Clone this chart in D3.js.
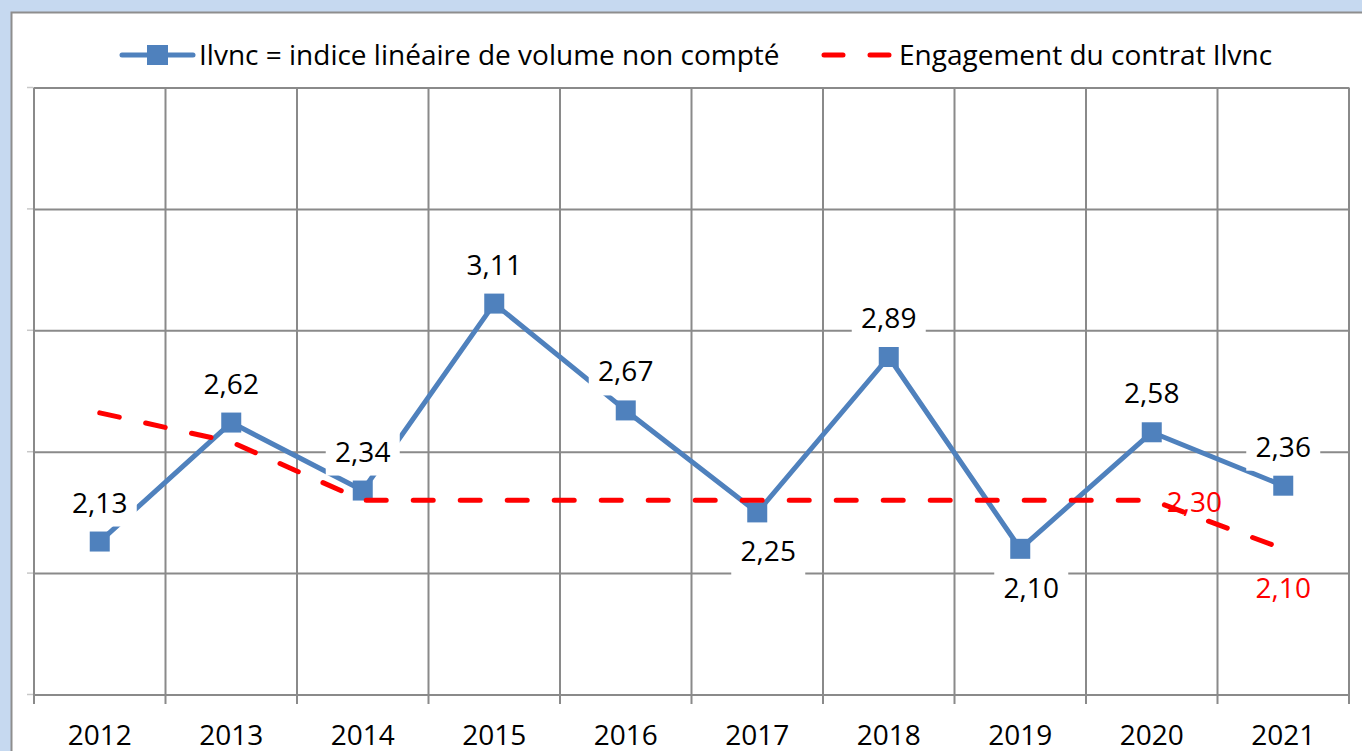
<!DOCTYPE html>
<html>
<head>
<meta charset="utf-8">
<script src="https://cdn.jsdelivr.net/npm/d3@7"></script>
<style>
  html, body { margin: 0; padding: 0; background: #c6d9f0; overflow: hidden; }
  text { font-family: "Open Sans", "Noto Sans", sans-serif; }
</style>
</head>
<body>
<div id="chart"></div>
<script>
    // data
    var years = ["2012", "2013", "2014", "2015", "2016", "2017", "2018", "2019", "2020", "2021"];
    var ilvnc = [2.13, 2.62, 2.34, 3.11, 2.67, 2.25, 2.89, 2.10, 2.58, 2.36];
    var engagement = [2.66, 2.54, 2.30, 2.30, 2.30, 2.30, 2.30, 2.30, 2.30, 2.10];
    var ilvncLabelSide = ["above", "above", "above", "above", "above", "below", "above", "below", "above", "above"];
    var engagementLabels = [null, null, null, null, null, null, null, null, "right", "below"];
    var yTicks = [1.5, 2.0, 2.5, 3.0, 3.5, 4.0];

    var legendNames = ["Ilvnc = indice linéaire de volume non compté", "Engagement du contrat Ilvnc"];

    var W = 1362, H = 751;
    var blue = "#4f81bd", red = "#ff0000", grid = "#8a8a8a";

    var svg = d3.select("#chart")
        .append("svg")
        .attr("width", W)
        .attr("height", H);

    // chart area with grey border
    svg.append("rect")
        .attr("x", 11.5)
        .attr("y", 12.5)
        .attr("width", W)
        .attr("height", H)
        .attr("fill", "#fff")
        .attr("stroke", "#8e8e8e")
        .attr("stroke-width", 2);

    var x = d3.scaleBand().domain(years).range([34, 1349]).padding(0);
    var y = d3.scaleLinear().domain([1.5, 4.0]).range([694.5, 87.5]);
    var cx = function (d) { return x(d) + x.bandwidth() / 2; };
    var fmt = function (v) { return d3.format(".2f")(v).replace(".", ","); };

    // horizontal gridlines
    var gy = svg.append("g")
        .attr("transform", "translate(34,0)")
        .call(d3.axisLeft(y).tickValues(yTicks).tickSize(-1315).tickFormat(""));
    gy.select(".domain").remove();
    gy.selectAll(".tick line").attr("stroke", grid).attr("stroke-width", 2);
    // small y ticks out to the left
    svg.append("g").selectAll("line")
        .data(yTicks)
        .join("line")
        .attr("x1", 27).attr("x2", 33)
        .attr("y1", function (d) { return y(d); })
        .attr("y2", function (d) { return y(d); })
        .attr("stroke", "#c8c8c8")
        .attr("stroke-width", 1.5);

    // vertical gridlines at category edges
    var edges = years.map(function (d) { return x(d); }).concat([x.range()[1]]);
    svg.append("g").selectAll("line")
        .data(edges)
        .join("line")
        .attr("x1", function (d) { return d; })
        .attr("x2", function (d) { return d; })
        .attr("y1", y(4.0))
        .attr("y2", 704)
        .attr("stroke", grid)
        .attr("stroke-width", 2);

    // x axis labels
    var gx = svg.append("g")
        .attr("transform", "translate(0," + y(1.5) + ")")
        .call(d3.axisBottom(x).tickSize(0).tickPadding(0));
    gx.select(".domain").attr("stroke", grid).attr("stroke-width", 2);
    gx.selectAll(".tick text")
        .attr("y", 50)
        .attr("dy", 0)
        .attr("font-size", 28)
        .attr("font-family", "'Open Sans', sans-serif")
        .attr("fill", "#000");

    // Ilvnc series
    var line = d3.line()
        .x(function (d, i) { return cx(years[i]); })
        .y(function (d) { return y(d); });

    svg.append("path")
        .datum(ilvnc)
        .attr("d", line)
        .attr("fill", "none")
        .attr("stroke", blue)
        .attr("stroke-width", 5)
        .attr("stroke-linejoin", "round");

    svg.append("g").selectAll("rect")
        .data(ilvnc)
        .join("rect")
        .attr("x", function (d, i) { return cx(years[i]) - 10; })
        .attr("y", function (d) { return y(d) - 10; })
        .attr("width", 20)
        .attr("height", 20)
        .attr("fill", blue);

    // Engagement series
    svg.append("path")
        .datum(engagement)
        .attr("d", line)
        .attr("fill", "none")
        .attr("stroke", red)
        .attr("stroke-width", 5)
        .attr("stroke-dasharray", "20,27")
        .attr("stroke-linecap", "round");

    // Ilvnc labels with white boxes
    var lab = svg.append("g").selectAll("g")
        .data(ilvnc)
        .join("g")
        .attr("transform", function (d, i) {
            var above = ilvncLabelSide[i] === "above";
            var bx = cx(years[i]) + (above ? 0 : 11);
            var by = above ? y(d) - 29 : y(d) + 49;
            return "translate(" + bx + "," + by + ")";
        });
    lab.append("rect")
        .attr("x", -37).attr("y", -32)
        .attr("width", 74).attr("height", 46)
        .attr("fill", "#fff");
    lab.append("text")
        .attr("text-anchor", "middle")
        .attr("font-size", 28)
        .attr("fill", "#000")
        .text(function (d) { return fmt(d); });

    // Engagement labels (only the last two)
    svg.append("g").selectAll("text")
        .data(engagement.map(function (d, i) { return { v: d, i: i, side: engagementLabels[i] }; })
            .filter(function (d) { return d.side; }))
        .join("text")
        .attr("x", function (d) { return d.side === "right" ? cx(years[d.i]) + 15 : cx(years[d.i]); })
        .attr("y", function (d) { return d.side === "right" ? y(d.v) + 12 : y(d.v) + 49; })
        .attr("text-anchor", function (d) { return d.side === "right" ? "start" : "middle"; })
        .attr("font-size", 28)
        .attr("fill", red)
        .text(function (d) { return fmt(d.v); });

    // legend
    var leg = svg.append("g");
    leg.append("line")
        .attr("x1", 122).attr("x2", 193).attr("y1", 55).attr("y2", 55)
        .attr("stroke", blue).attr("stroke-width", 5).attr("stroke-linecap", "round");
    leg.append("rect")
        .attr("x", 147).attr("y", 45).attr("width", 21).attr("height", 20)
        .attr("fill", blue);
    leg.append("text")
        .attr("x", 199).attr("y", 65)
        .attr("font-size", 28)
        .text(legendNames[0]);

    leg.append("line")
        .attr("x1", 824).attr("x2", 891).attr("y1", 55).attr("y2", 55)
        .attr("stroke", red).attr("stroke-width", 5).attr("stroke-linecap", "round")
        .attr("stroke-dasharray", "19,27");
    leg.append("text")
        .attr("x", 899).attr("y", 65)
        .attr("font-size", 28)
        .text(legendNames[1]);
</script>
</body>
</html>
